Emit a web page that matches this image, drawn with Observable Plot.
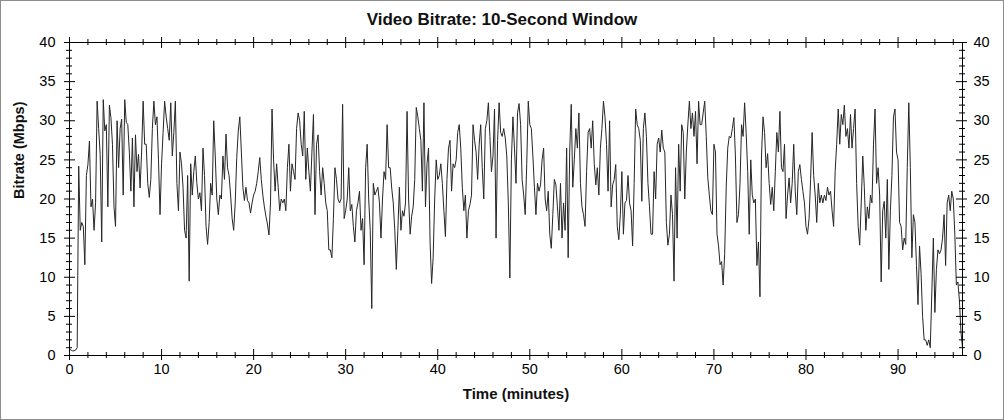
<!DOCTYPE html>
<html><head><meta charset="utf-8">
<script src="https://cdn.jsdelivr.net/npm/d3@7"></script>
<script src="https://cdn.jsdelivr.net/npm/@observablehq/plot@0.6"></script>
<style>
html,body{margin:0;padding:0;background:#fff;}
#wrap{width:1004px;height:420px;box-sizing:border-box;border:1px solid #8c8c8c;background:#fff;font-family:"Liberation Sans",Arial,sans-serif;overflow:hidden;}
#title{height:29px;line-height:38px;text-align:center;font-weight:bold;font-size:17px;color:#111;white-space:nowrap;}
#chart svg{display:block;}
</style></head><body>
<div id="wrap"><div id="title"></div><div id="chart"></div></div>
<script>
const chartTitle = "Video Bitrate: 10-Second Window";
const xLabel = "Time (minutes)";
const yLabel = "Bitrate (Mbps)";
const sampleSeconds = 10;
// Bitrate (Mbps), one value per 10-second window
const bitrate = [
 0.8,0.7,0.6,0.6,0.7,1.0,24.2,16,17,16.5,11.6,23,24.4,27.4,19,20,16,19.5,32.5,29,25.7,14.5,32.7,28.7,29.5,19,32,30.4,27,19,16.5,30,24,29,30.2,20.5,32.7,29.8,29.5,26,21,27.8,19,28.2,23.5,25.7,21.4,26,32.5,27,
 27,22,20.2,22.5,29,32.5,29.5,30.5,25,18,24.5,28.5,32.5,30.5,29,27.5,32.3,25.5,28.5,32.5,22,18.5,26,24.5,21.5,16,15,23,9.5,24.5,20.5,23.5,25.5,22,20,20.8,18.5,26.5,23,16.5,14.2,17,22,20.5,30,25.5,20,18,20.5,20,25.5,22.5,28.3,
 24,23,20.5,17.5,16,19.5,25.3,28.7,30.5,26,21.5,19.8,21.5,19.8,19.5,18.2,19.5,20.5,21,22,23.5,25.3,22.5,20.5,19,17.8,16.8,15.4,19.5,31.5,25,21,24.5,21.5,18.5,20,19.5,20,18.5,24,27,21,24.5,23.5,22.5,29,31,30,27,25.5,31.2,22.5,26.5,23.5,
 21,26,30.8,18,27,28.2,23.5,20.5,24,22,19.5,18.5,13.5,13.5,12.5,17.5,24,22.5,20,19.5,20,32.1,17.5,18.5,20,24,18.5,19.3,16.5,14.5,18.5,19.5,21,16,17.5,11.6,24,27,20,16,6,22,20.5,21,21.5,19.5,15,20,23.5,22.5,29.5,24,24,
 21.4,19.5,16,11,16,21.5,16,18.5,17.8,19.5,31.2,20,15.5,17.8,19,22.5,31.7,30.5,29,27.5,21,32.3,19,24.5,26.5,14.5,9.2,12.5,20,25,22.5,23,24.5,22,18.5,15.2,22.5,26.5,27.5,21,24.5,24,25,28.5,29.5,26.5,21.5,18.5,20.5,15,18.5,19.3,20.5,29.5,
 27.5,26,22.5,27,29.5,24,20,29,30,32.3,28,23.5,25.5,31.5,15,27.5,32.3,28.5,28,29,27.8,25.5,19.5,9.9,25,30.5,26.5,22,31,32.2,29.5,22.5,20.5,18,24.5,32.5,29.5,29,25.5,21.5,18,22,21,21.8,25,26.5,20,18.5,21,15.5,13.7,18,22.5,
 21.8,19,16,22,15,19.5,16,26.5,12.5,26,32.1,21.5,25,29,26.5,31,22,19,18,16.5,23.5,28.5,29,26.5,30,24.5,21.8,24,20.5,26.5,29,32.5,30.5,27,21,30,19,21.8,22.5,24.4,16.5,14.8,18,23.5,15.5,19.5,19.8,23,19.5,18.5,14,22,31.5,29.5,
 29,27.5,19.7,29,31,28,22,19,15.5,15.5,23.5,20,27,27.8,26,28.8,26.5,26,17,14.1,15.5,20.5,18,9.5,24,15,27,21,29.5,28.5,20,26,29.5,32.5,29,31,28,31.2,24.5,32.5,29.5,29.5,31,32.5,28,22.7,20.5,18.5,18,27,26,15.5,14,
 11.6,12,9,13,21.5,26.5,28,27.8,29,30.4,25.5,17,18,22,29.5,28,32.3,28.5,23.5,15.5,25,20.5,19.5,20,11.5,14.5,7.5,25.5,30.5,28.5,24,25.8,22,19.3,21.5,18.5,23.5,28.5,26,31.2,24,23.5,27,17.5,20.5,22.7,19.5,22,27,21,18,23.5,24.4,22.5,
 21,19.5,16.5,15.5,17.5,22.5,28.5,23,20.5,17,22,19.5,20.5,19.5,20.5,19.8,21.5,20.5,21,18.5,16.5,23.5,27,31.5,27,30.8,29.5,32,28,29,26.5,30.8,26.5,29,31.5,22,16.5,14.1,19.5,25.5,21.5,16,19,17.5,20.5,19.5,27,31.5,22,24,20.5,9.4,18.5,
 19.7,15,22.5,11,18.5,23,30.5,31.5,26,25,17,16.5,13.5,15,14.2,24,32.3,24,12.5,18,17,11.5,6.5,14,10.5,5,2,2,1.3,2,1,8,15,5.5,11,13.5,13,13.5,15,18,11.5,19.5,20.5,18.5,21,20,15.5,9,9.4,7,3,1
];
const yTicks = [0, 5, 10, 15, 20, 25, 30, 35, 40];
const xTicks = [0, 10, 20, 30, 40, 50, 60, 70, 80, 90];
const xDomain = [0, 97];
const yDomain = [0, 40];

document.getElementById("title").textContent = chartTitle;

const data = bitrate.map((v, i) => ({t: i * sampleSeconds / 60, v}));
const yMinor = d3.range(yDomain[0], yDomain[1] + 1).filter(v => v % 5 !== 0);
const xMinor = d3.range(0, 97, 2).filter(v => v % 10 !== 0);

const W = 1002, H = 388, mL = 68, mR = 41, mT = 12, mB = 63;
const pw = W - mL - mR, ph = H - mT - mB;

function yTickMarks(vals, out, inn) {
  return [
    Plot.tickY(vals, {y: d => d, dx: -out, insetRight: pw - out - inn, stroke: "#000"}),
    Plot.tickY(vals, {y: d => d, dx: out, insetLeft: pw - out - inn, stroke: "#000"})
  ];
}
function xTickMarks(vals, out, inn) {
  return [
    Plot.tickX(vals, {x: d => d, dy: out, insetTop: ph - out - inn, stroke: "#000"}),
    Plot.tickX(vals, {x: d => d, dy: -out, insetBottom: ph - out - inn, stroke: "#000"})
  ];
}

const chart = Plot.plot({
  width: W, height: H,
  marginLeft: mL, marginRight: mR, marginTop: mT, marginBottom: mB,
  style: {fontFamily: "'Liberation Sans', Arial, sans-serif", fontSize: "14px", color: "#000", background: "#fff", overflow: "visible"},
  x: {domain: xDomain},
  y: {domain: yDomain},
  marks: [
    Plot.line(data, {x: "t", y: "v", stroke: "#262626", strokeWidth: 1}),
    Plot.frame({stroke: "#000"}),
    ...yTickMarks(yTicks, 5, 6),
    ...yTickMarks(yMinor, 3, 3),
    ...xTickMarks(xTicks, 5, 6),
    ...xTickMarks(xMinor, 3, 3),
    Plot.axisY(yTicks, {anchor: "left", tickSize: 0, tickPadding: 14, label: null, fontSize: 14.5}),
    Plot.axisY(yTicks, {anchor: "right", tickSize: 0, tickPadding: 11, label: null, fontSize: 14.5}),
    Plot.axisX(xTicks, {anchor: "bottom", tickSize: 0, tickPadding: 8, label: null, fontSize: 14.5}),
    Plot.text([xLabel], {frameAnchor: "bottom", dy: 43, text: d => d, fontWeight: "bold", fontSize: 15, fill: "#111"}),
    Plot.text([yLabel], {frameAnchor: "left", dx: -50, rotate: -90, text: d => d, fontWeight: "bold", fontSize: 14.5, fill: "#111"})
  ]
});
document.getElementById("chart").appendChild(chart);
</script>
</body></html>
